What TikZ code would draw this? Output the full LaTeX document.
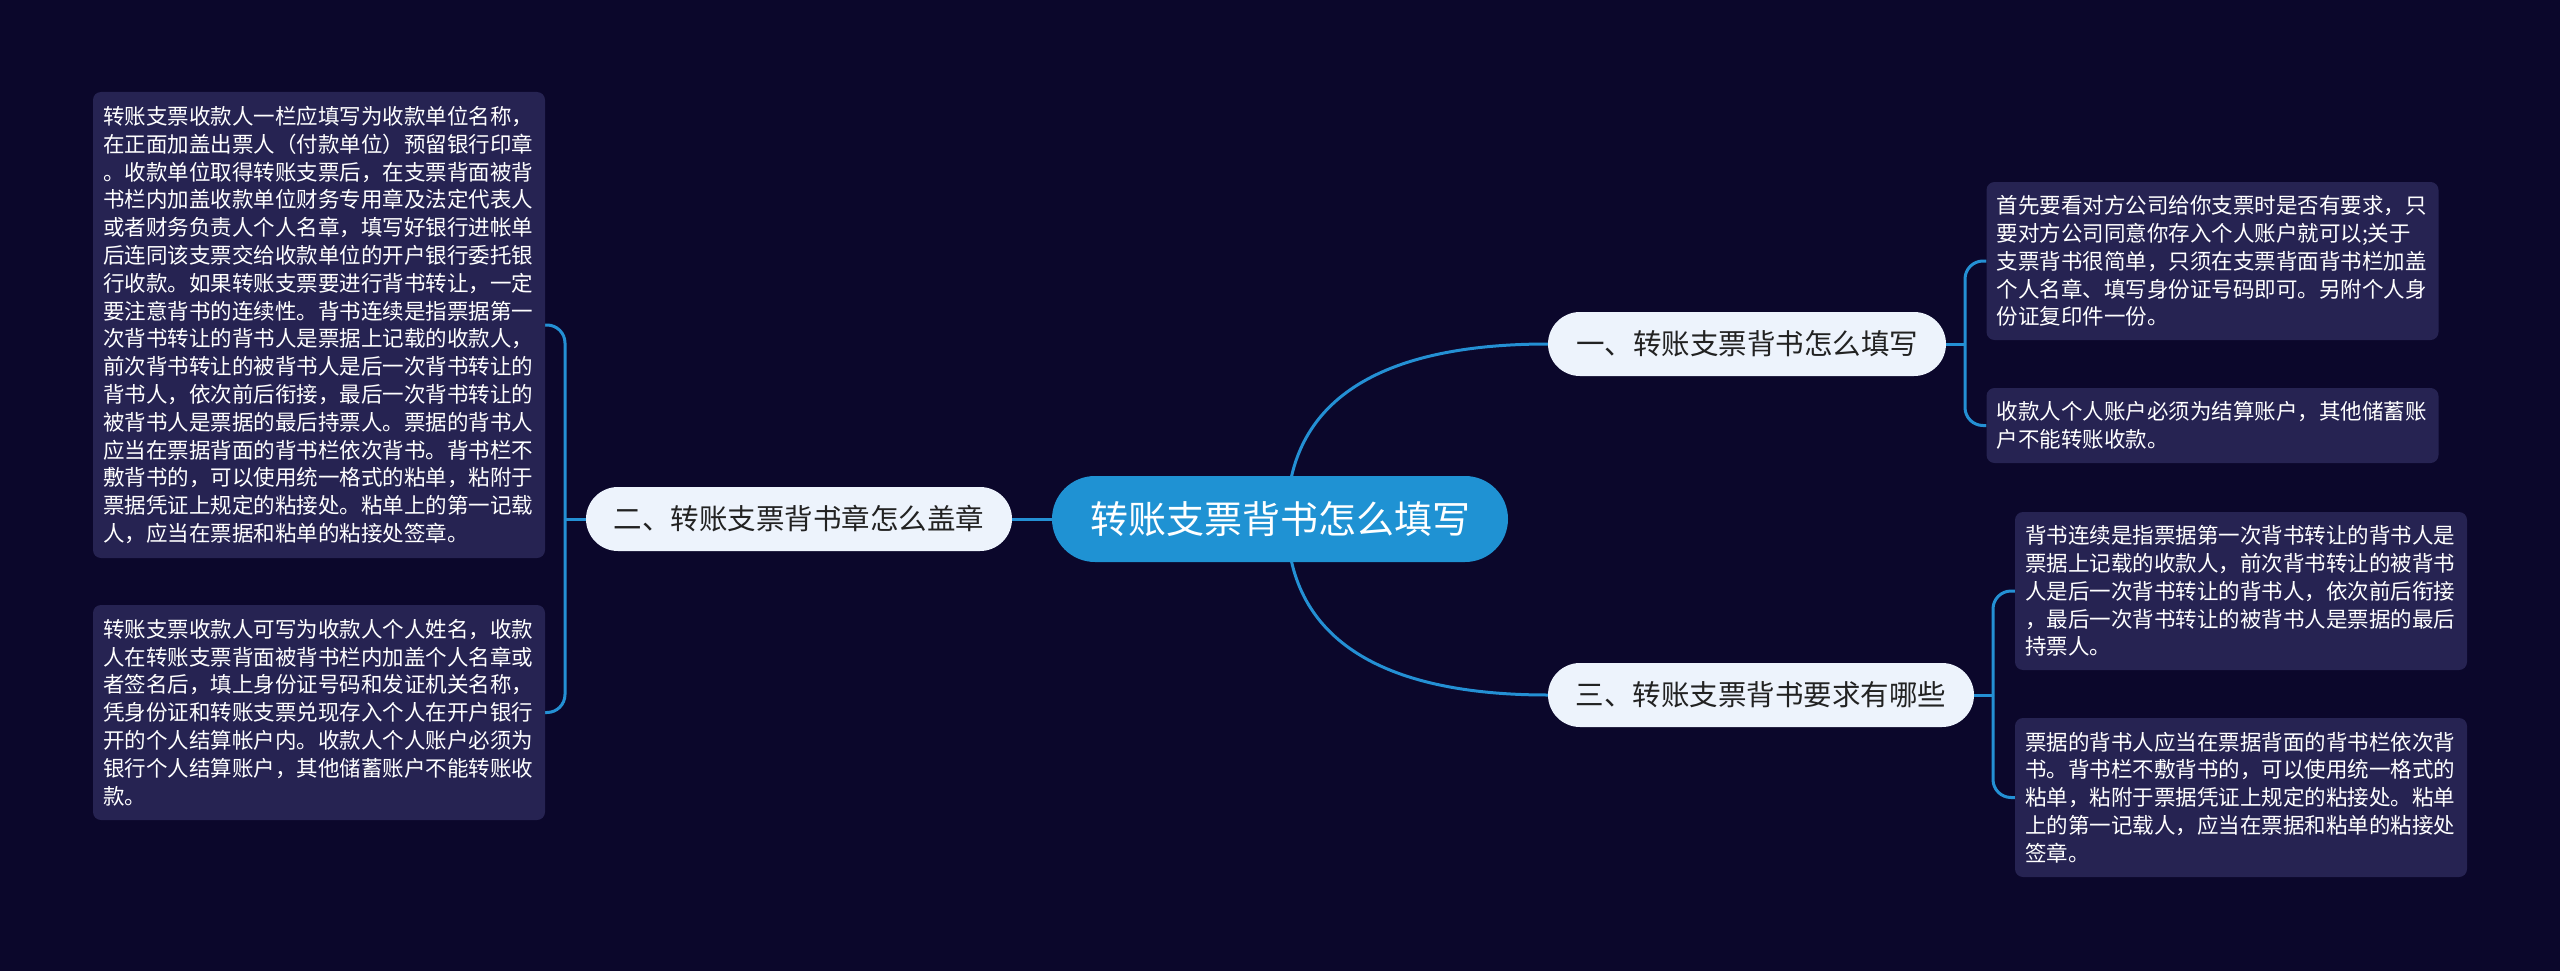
\documentclass[tikz,border=0pt]{standalone}
\usepackage{fontspec}
\usetikzlibrary{backgrounds}
\newfontfamily\cjk{Noto Sans CJK SC}
\definecolor{bgc}{RGB}{11,7,43}
\definecolor{boxc}{RGB}{38,35,82}
\definecolor{pillc}{RGB}{237,243,252}
\definecolor{centc}{RGB}{31,146,211}
\definecolor{linec}{RGB}{36,144,212}
\definecolor{pilltext}{RGB}{34,34,34}
\tikzset{
  conn/.style={draw=linec, line width=3pt},
  centnode/.style={fill=centc, rounded corners=43pt, minimum width=456pt, minimum height=86pt, inner sep=0pt, text=white, font=\cjk\fontsize{38pt}{46pt}\selectfont},
  pill/.style={fill=pillc, rounded corners=32pt, minimum height=64pt, inner sep=0pt, text=pilltext, font=\cjk\fontsize{28.5pt}{34pt}\selectfont},
  txtbox/.style={fill=boxc, rounded corners=8pt, text=white, text width=432pt, align=left, inner xsep=10pt, inner ysep=0pt, font=\cjk\fontsize{21.5pt}{27.8pt}\selectfont}
}
\begin{document}
\begin{tikzpicture}[x=1pt,y=-1pt]
\useasboundingbox (0,0) rectangle (2560,971);

% coordinates
\coordinate (cs) at (1287,519);
\coordinate (jl) at (565,519);
\coordinate (j1) at (1965,344);
\coordinate (j3) at (1993,695);

% nodes
\node[centnode] (c) at (1280,519) {转账支票背书怎么填写};
\node[pill, minimum width=398pt] (n1) at (1747,344) {一、转账支票背书怎么填写};
\node[pill, minimum width=426pt] (n2) at (799,519) {二、转账支票背书章怎么盖章};
\node[pill, minimum width=426pt] (n3) at (1761,695) {三、转账支票背书要求有哪些};

\node[txtbox, minimum height=466pt] (l1) at (319,325) {转账支票收款人一栏应填写为收款单位名称，\\在正面加盖出票人（付款单位）预留银行印章\\。收款单位取得转账支票后，在支票背面被背\\书栏内加盖收款单位财务专用章及法定代表人\\或者财务负责人个人名章，填写好银行进帐单\\后连同该支票交给收款单位的开户银行委托银\\行收款。如果转账支票要进行背书转让，一定\\要注意背书的连续性。背书连续是指票据第一\\次背书转让的背书人是票据上记载的收款人，\\前次背书转让的被背书人是后一次背书转让的\\背书人，依次前后衔接，最后一次背书转让的\\被背书人是票据的最后持票人。票据的背书人\\应当在票据背面的背书栏依次背书。背书栏不\\敷背书的，可以使用统一格式的粘单，粘附于\\票据凭证上规定的粘接处。粘单上的第一记载\\人，应当在票据和粘单的粘接处签章。};
\node[txtbox, minimum height=215pt] (l2) at (319,712.5) {转账支票收款人可写为收款人个人姓名，收款\\人在转账支票背面被背书栏内加盖个人名章或\\者签名后，填上身份证号码和发证机关名称，\\凭身份证和转账支票兑现存入个人在开户银行\\开的个人结算帐户内。收款人个人账户必须为\\银行个人结算账户，其他储蓄账户不能转账收\\款。};
\node[txtbox, minimum height=158pt] (r1) at (2212.5,261) {首先要看对方公司给你支票时是否有要求，只\\要对方公司同意你存入个人账户就可以;关于\\支票背书很简单，只须在支票背面背书栏加盖\\个人名章、填写身份证号码即可。另附个人身\\份证复印件一份。};
\node[txtbox, minimum height=75pt] (r2) at (2212.5,425.5) {收款人个人账户必须为结算账户，其他储蓄账\\户不能转账收款。};
\node[txtbox, minimum height=158pt] (r3) at (2241,591) {背书连续是指票据第一次背书转让的背书人是\\票据上记载的收款人，前次背书转让的被背书\\人是后一次背书转让的背书人，依次前后衔接\\，最后一次背书转让的被背书人是票据的最后\\持票人。};
\node[txtbox, minimum height=159pt] (r4) at (2241,797.5) {票据的背书人应当在票据背面的背书栏依次背\\书。背书栏不敷背书的，可以使用统一格式的\\粘单，粘附于票据凭证上规定的粘接处。粘单\\上的第一记载人，应当在票据和粘单的粘接处\\签章。};

% connectors, behind the nodes
\begin{scope}[on background layer]
\fill[bgc] (0,0) rectangle (2560,971);
\draw[conn] (cs) .. controls (1287,400) and (1380,344) .. (n1.west);
\draw[conn] (cs) .. controls (1287,638) and (1380,695) .. (n3.west);
\draw[conn] (c.west) -- (n2.east);
\draw[conn] (n2.west) -- (jl);
\draw[conn, rounded corners=18pt] (jl) |- (l1.east);
\draw[conn, rounded corners=18pt] (jl) |- (l2.east);
\draw[conn] (n1.east) -- (j1);
\draw[conn, rounded corners=18pt] (j1) |- (r1.west);
\draw[conn, rounded corners=18pt] (j1) |- (r2.west);
\draw[conn] (n3.east) -- (j3);
\draw[conn, rounded corners=18pt] (j3) |- (r3.west);
\draw[conn, rounded corners=18pt] (j3) |- (r4.west);
\end{scope}
\end{tikzpicture}
\end{document}
